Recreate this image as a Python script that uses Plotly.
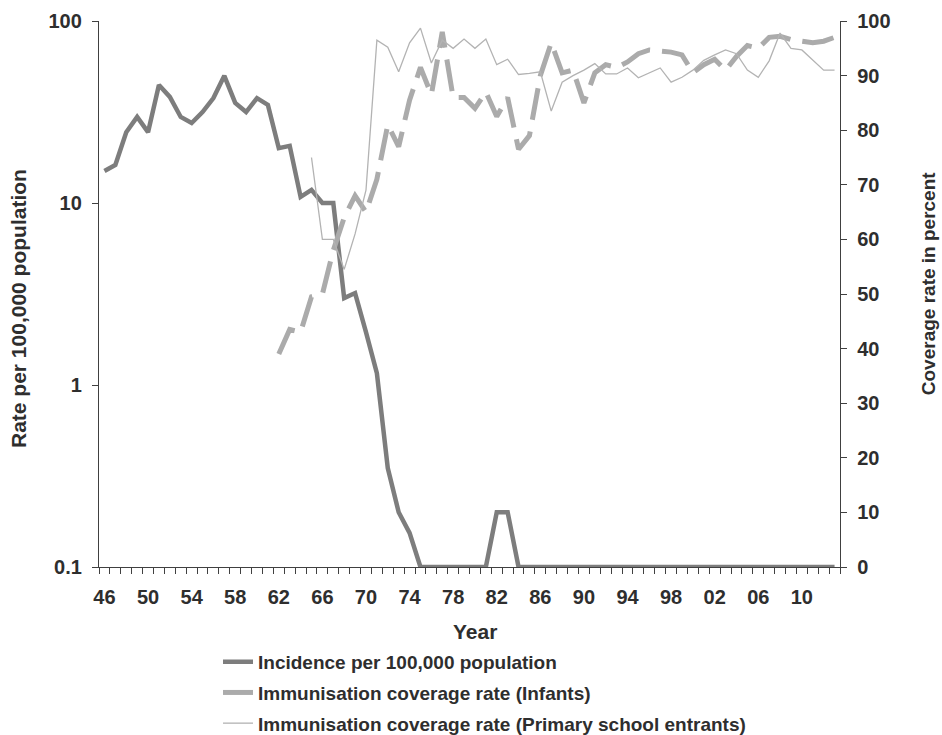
import plotly.graph_objects as go

years = list(range(1946, 2014))

# Incidence per 100,000 population (left, log axis); 0.1 = floor of axis (no cases)
incidence = [15, 16.2, 24.5, 29.7, 24.5, 44.5, 38.3, 29.7, 27.5, 31.6,
             37.7, 50, 35.5, 31.6, 37.7, 34.6, 20, 20.6, 10.8, 11.8,
             10, 10, 3.0, 3.2, 1.95, 1.16, 0.35, 0.2, 0.154, 0.1,
             0.1, 0.1, 0.1, 0.1, 0.1, 0.1, 0.2, 0.2, 0.1, 0.1,
             0.1, 0.1, 0.1, 0.1, 0.1, 0.1, 0.1, 0.1, 0.1, 0.1,
             0.1, 0.1, 0.1, 0.1, 0.1, 0.1, 0.1, 0.1, 0.1, 0.1,
             0.1, 0.1, 0.1, 0.1, 0.1, 0.1, 0.1, 0.1]

# Immunisation coverage rate (Infants), 1962-2013
infant_years = list(range(1962, 2014))
infants = [39, 43.5, 43, 49.5, 50, 58, 64, 68, 65, 71,
           81, 77, 85.5, 91.5, 86.5, 98, 86, 86, 84, 87,
           82.5, 86, 76.5, 79, 90, 96, 90.5, 91, 85, 90.5,
           92, 91.5, 92.5, 94, 94.7, 94.5, 94.3, 93.8, 90.5, 92,
           93, 91, 93.5, 95.5, 95, 97, 97.2, 96.6, 96.3, 96,
           96.3, 97]

# Immunisation coverage rate (Primary school entrants), 1965-2013
school_years = list(range(1965, 2014))
school = [75, 60, 60, 54.5, 61, 69, 96.5, 95.2, 90.7, 96,
          98.7, 92.3, 96.5, 95, 96.7, 95, 96.7, 92, 93, 90.2,
          90.4, 90.7, 83.5, 88.8, 90, 91, 92.2, 90.3, 90.3, 91.4,
          89.6, 90.5, 91.4, 88.8, 89.7, 91, 92.8, 93.8, 94.7, 94,
          91, 89.7, 92.7, 97.8, 95, 94.7, 92.8, 91, 91]

tick_years = list(range(1946, 2014, 4))
tick_text = [str(y)[2:] for y in tick_years]

left_vals = [0.1, 1, 10, 100]
left_text = ["0.1", "1", "10", "100"]

FONT = "Liberation Sans, Arial, sans-serif"
TXT = "#2e2e2e"
AX = "#404040"

fig = go.Figure()
fig.add_trace(go.Scatter(
    x=years, y=incidence, mode="lines", name="Incidence per 100,000 population",
    line=dict(color="#7d7d7d", width=4.5), yaxis="y", legendgroup="a"))
fig.add_trace(go.Scatter(
    x=infant_years, y=infants, mode="lines", name="Immunisation coverage rate (Infants)",
    line=dict(color="#ababab", width=5, dash="32px,12px"), yaxis="y2", legendgroup="b"))
fig.add_trace(go.Scatter(
    x=school_years, y=school, mode="lines",
    name="Immunisation coverage rate (Primary school entrants)",
    line=dict(color="#b3b3b3", width=1.3), yaxis="y2", legendgroup="c"))

tickfont = dict(size=20, weight="bold", color=TXT, family=FONT)

fig.update_layout(
    width=942, height=735,
    margin=dict(l=99, r=102, t=21, b=168, autoexpand=False),
    paper_bgcolor="white", plot_bgcolor="white",
    font=dict(family=FONT, color=TXT, size=19, weight="bold"),
    showlegend=True,
    legend=dict(x=0.1606, y=-0.139, xanchor="left", yanchor="top",
                orientation="v", tracegroupgap=3,
                font=dict(size=19, color=TXT, weight="bold", family=FONT)),
    xaxis=dict(range=[1945.5, 2013.5], tickvals=tick_years, ticktext=tick_text,
               ticks="outside", ticklen=12, tickcolor="rgba(0,0,0,0)",
               showgrid=False, zeroline=False,
               showline=True, linecolor=AX, linewidth=1.3,
               tickfont=tickfont,
               minor=dict(tick0=1945.5, dtick=1, ticks="outside", ticklen=6,
                          tickcolor=AX, tickwidth=1, showgrid=False)),
    yaxis=dict(type="log", range=[-1, 2], tickvals=left_vals, ticktext=left_text,
               ticks="outside", ticklen=6, tickcolor=AX, showgrid=False, zeroline=False,
               showline=True, linecolor=AX, linewidth=1.3, ticklabelstandoff=6,
               tickfont=tickfont),
    yaxis2=dict(range=[0, 100], dtick=10, overlaying="y", side="right",
                ticks="outside", ticklen=6, tickcolor=AX, showgrid=False, zeroline=False,
                showline=True, linecolor=AX, linewidth=1.3, ticklabelstandoff=6,
                tickfont=tickfont),
    annotations=[
        dict(text="Year", x=0.507, y=-0.119, xref="paper", yref="paper",
             showarrow=False, xanchor="center", yanchor="middle",
             font=dict(size=21, weight="bold", color=TXT, family=FONT)),
        dict(text="Rate per 100,000 population", x=-0.1093, y=0.4725,
             xref="paper", yref="paper", textangle=-90, showarrow=False,
             xanchor="center", yanchor="middle",
             font=dict(size=21, weight="bold", color=TXT, family=FONT)),
        dict(text="Coverage rate in percent", x=1.1188, y=0.518,
             xref="paper", yref="paper", textangle=-90, showarrow=False,
             xanchor="center", yanchor="middle",
             font=dict(size=19, weight="bold", color=TXT, family=FONT)),
    ],
)

fig.write_html("out.html")
